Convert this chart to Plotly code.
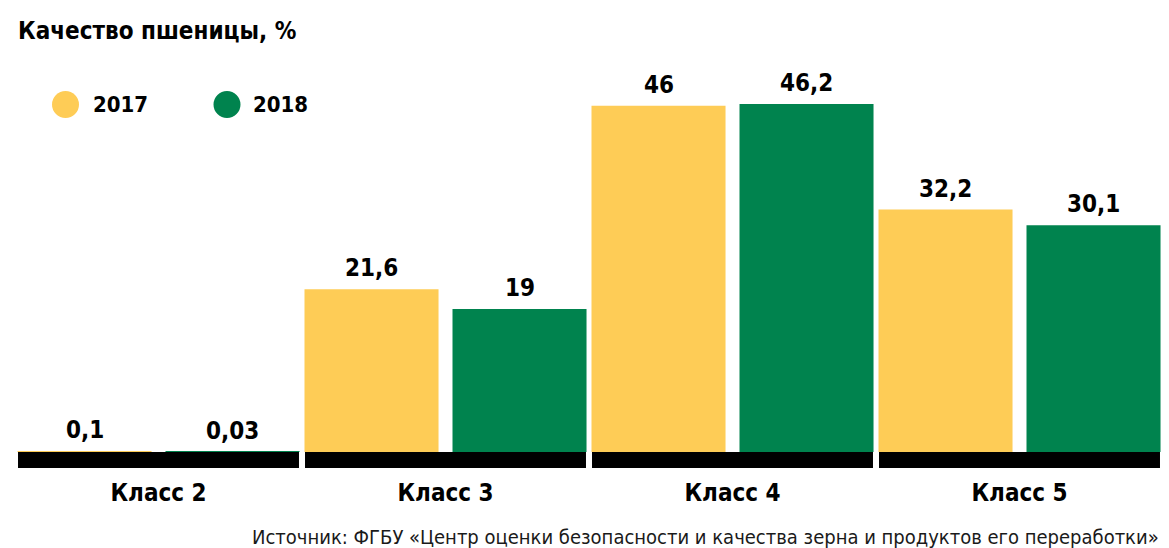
import plotly.graph_objects as go

# ---- data ----
categories = ["Класс 2", "Класс 3", "Класс 4", "Класс 5"]
series_names = ["2017", "2018"]
values_2017 = [0.1, 21.6, 46, 32.2]
values_2018 = [0.03, 19, 46.2, 30.1]
labels_2017 = ["0,1", "21,6", "46", "32,2"]
labels_2018 = ["0,03", "19", "46,2", "30,1"]
title_text = "Качество пшеницы, %"
source_text = "Источник: ФГБУ «Центр оценки безопасности и качества зерна и продуктов его переработки»"

# ---- style ----
W, H = 1169, 548
ML, MR, MT, MB = 15, 6, 60, 80
PW = W - ML - MR
PH = H - MT - MB
YELLOW = "#FECC56"
GREEN = "#00834E"
FONT = "DejaVu Sans Condensed, DejaVu Sans, sans-serif"
BAR_W = 0.467
OFF_Y = -0.4913
OFF_G = 0.0244
Y_MIN, Y_MAX = -2.125, 52.06
STRIP_HALF = 0.4895

xs = list(range(len(categories)))

fig = go.Figure()
for vals, name, color, off in [(values_2017, series_names[0], YELLOW, OFF_Y),
                               (values_2018, series_names[1], GREEN, OFF_G)]:
    fig.add_trace(go.Bar(
        x=xs, y=vals, name=name, width=BAR_W, offset=off,
        marker=dict(color=color, line=dict(width=0)),
        showlegend=False, hoverinfo="skip",
    ))

# value labels
for vals, labs, off in [(values_2017, labels_2017, OFF_Y), (values_2018, labels_2018, OFF_G)]:
    for x, v, t in zip(xs, vals, labs):
        fig.add_annotation(x=x + off + BAR_W / 2, y=v, xref="x", yref="y",
                           text="<b>%s</b>" % t, showarrow=False,
                           yanchor="bottom", yshift=5,
                           font=dict(family=FONT, size=24, color="#000"))

# black base strips
for x in xs:
    fig.add_shape(type="rect", xref="x", yref="y",
                  x0=x - STRIP_HALF, x1=x + STRIP_HALF, y0=Y_MIN, y1=0,
                  fillcolor="#000", line=dict(width=0), layer="above")

def px_x(p):
    return (p - ML) / PW

def px_y(p):
    return (H - MB - p) / PH

# legend (circles + text)
for cx, tx, color, name in [(65.5, 91, YELLOW, series_names[0]), (227, 251, GREEN, series_names[1])]:
    fig.add_shape(type="circle", xref="paper", yref="paper",
                  xsizemode="pixel", ysizemode="pixel",
                  xanchor=px_x(cx), yanchor=px_y(104.5),
                  x0=-13.5, x1=13.5, y0=-13.5, y1=13.5,
                  fillcolor=color, line=dict(width=0))
    fig.add_annotation(xref="paper", yref="paper", x=px_x(tx), y=px_y(104.5),
                       xanchor="left", yanchor="middle", showarrow=False,
                       text="<b>%s</b>" % name,
                       font=dict(family=FONT, size=22, color="#000"))

# source
fig.add_annotation(xref="paper", yref="paper", x=px_x(1161), y=px_y(537),
                   xanchor="right", yanchor="middle", showarrow=False,
                   text=source_text,
                   font=dict(family=FONT, size=20, color="#1a1a1a"))

fig.update_layout(
    width=W, height=H,
    margin=dict(l=ML, r=MR, t=MT, b=MB, pad=0),
    plot_bgcolor="#fff", paper_bgcolor="#fff",
    barmode="overlay",
    title=dict(text="<b>%s</b>" % title_text, x=18 / W, xanchor="left",
               xref="container", y=1 - 31 / H, yanchor="middle", yref="container",
               font=dict(family=FONT, size=24, color="#000")),
    xaxis=dict(range=[-0.5, 3.5], tickmode="array", tickvals=xs,
               ticktext=["<b>%s</b>" % c for c in categories],
               tickfont=dict(family=FONT, size=24, color="#000"),
               showgrid=False, zeroline=False, showline=False, ticks="",
               ticklabelstandoff=8, fixedrange=True),
    yaxis=dict(range=[Y_MIN, Y_MAX], visible=False, showgrid=False,
               zeroline=False, fixedrange=True),
)

fig.write_html("out.html",
               config={"displayModeBar": False},
               post_script="document.body.style.margin='0';document.body.style.overflow='hidden';")
